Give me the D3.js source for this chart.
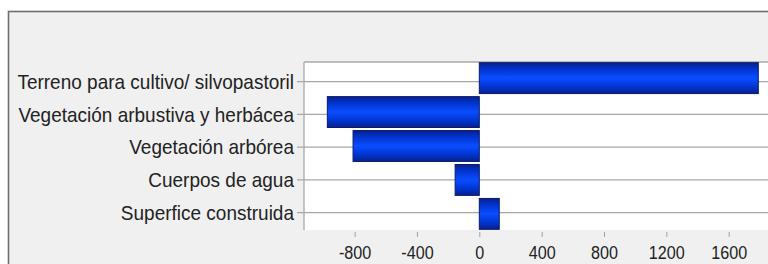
<!DOCTYPE html>
<html><head><meta charset="utf-8">
<script src="https://cdn.jsdelivr.net/npm/d3@7"></script>
<style>
html,body{margin:0;padding:0;background:#fff;}
svg{display:block;}
</style></head>
<body>
<script>
const categories = ["Terreno para cultivo/ silvopastoril","Vegetación arbustiva y herbácea","Vegetación arbórea","Cuerpos de agua","Superfice construida"];
const values = [1790, -975, -810, -155, 128];
const xTicks = [-800, -400, 0, 400, 800, 1200, 1600];

const W = 768, H = 264;
const FONT = "'Liberation Sans', Arial, sans-serif";
const svg = d3.select("body").append("svg").attr("width", W).attr("height", H);

// outer frame
svg.append("rect").attr("x",0).attr("y",0).attr("width",W).attr("height",H).attr("fill","#ffffff");
svg.append("rect").attr("x",8.5).attr("y",11.5).attr("width",W).attr("height",H).attr("fill","#f0f0f0")
  .attr("stroke","#6e6e6e").attr("stroke-width",1.6);

const plot = {left:304, top:62, right:W+2, bottom:230};

const x = d3.scaleLinear().domain([-1150, 1850]).range([479.3 - 1150*0.15586, 479.3 + 1850*0.15586]);
const yBand = d3.scaleBand().domain(categories).range([plot.top, plot.bottom]).paddingInner(0.09).paddingOuter(0.02);
const yPoint = d3.scalePoint().domain(categories).range([81.7, 212.7]);

// gradient
const defs = svg.append("defs");
const g = defs.append("linearGradient").attr("id","barGrad").attr("x1","0").attr("y1","0").attr("x2","0").attr("y2","1");
g.append("stop").attr("offset","0%").attr("stop-color","#0a1f8a");
g.append("stop").attr("offset","20%").attr("stop-color","#0033cc");
g.append("stop").attr("offset","50%").attr("stop-color","#0a4dff");
g.append("stop").attr("offset","80%").attr("stop-color","#0033cc");
g.append("stop").attr("offset","100%").attr("stop-color","#0a1f8a");

// plot background
svg.append("rect").attr("x",plot.left).attr("y",plot.top).attr("width",plot.right-plot.left).attr("height",plot.bottom-plot.top).attr("fill","#ffffff");

// horizontal gridlines + y ticks
svg.append("g").selectAll("line").data(categories).join("line")
  .attr("x1", 297).attr("x2", W)
  .attr("y1", d => yPoint(d)).attr("y2", d => yPoint(d))
  .attr("stroke","#a8a8a8").attr("stroke-width",1.3);

// plot borders top/left
svg.append("line").attr("x1",plot.left).attr("x2",W).attr("y1",plot.top).attr("y2",plot.top).attr("stroke","#a8a8a8").attr("stroke-width",1.3);
svg.append("line").attr("x1",plot.left).attr("x2",plot.left).attr("y1",plot.top).attr("y2",plot.bottom).attr("stroke","#a8a8a8").attr("stroke-width",1.3);

// bars
svg.append("g").selectAll("rect").data(categories).join("rect")
  .attr("x", (d,i) => x(Math.min(0, values[i])))
  .attr("width", (d,i) => Math.abs(x(values[i]) - x(0)))
  .attr("y", d => yBand(d))
  .attr("height", yBand.bandwidth())
  .attr("fill","url(#barGrad)")
  .attr("stroke","#0b1a6e").attr("stroke-width",1);

// y labels
svg.append("g").selectAll("text").data(categories).join("text")
  .attr("transform", d => `translate(294,${yPoint(d)}) scale(0.95,1)`)
  .attr("dy","0.36em")
  .attr("text-anchor","end")
  .attr("font-family", FONT)
  .attr("font-size", 20)
  .attr("fill","#222")
  .text(d => d);

// x axis
const xAxis = d3.axisBottom(x).tickValues(xTicks).tickSize(5).tickFormat(d => String(d));
const ax = svg.append("g").attr("transform",`translate(0,${plot.bottom+2})`).call(xAxis);
ax.select(".domain").remove();
ax.selectAll(".tick line").attr("stroke","#a0a0a0");
ax.selectAll(".tick text")
  .attr("y", 0).attr("dy", null)
  .attr("transform","translate(0,21) scale(0.85,1)")
  .attr("dominant-baseline","central")
  .attr("font-family", FONT).attr("font-size",19).attr("fill","#222");
</script>
</body></html>
